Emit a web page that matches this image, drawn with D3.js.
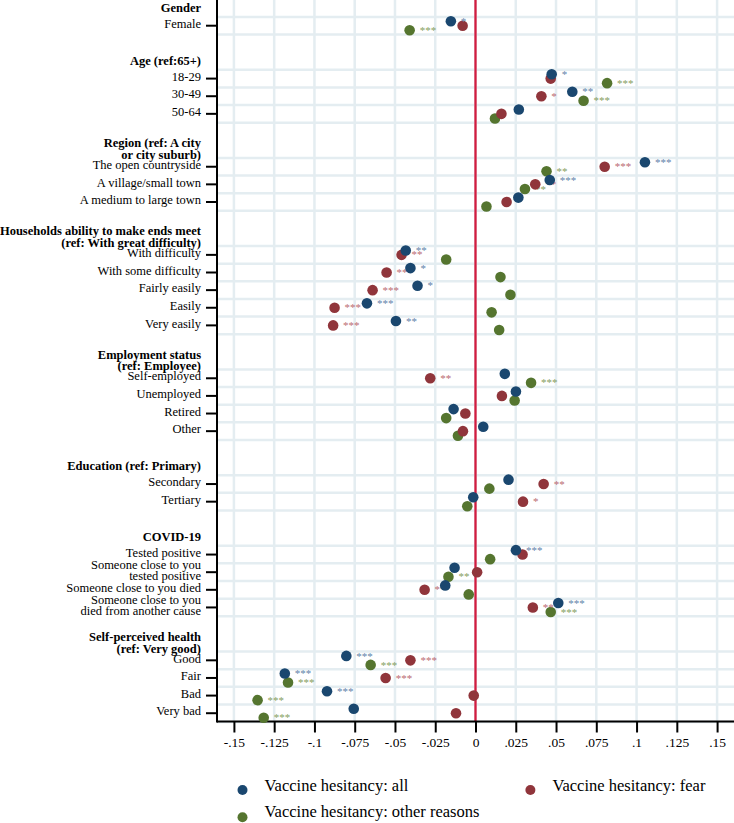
<!DOCTYPE html>
<html>
<head>
<meta charset="utf-8">
<script src="https://cdn.jsdelivr.net/npm/d3@7"></script>
<style>
  html, body { margin: 0; padding: 0; background: #ffffff; }
  svg { display: block; }
  text { font-family: "Liberation Serif", "Times New Roman", serif; }
</style>
</head>
<body>
<svg id="chart" width="734" height="823"></svg>
<script>
// ---------------- DATA ----------------
const groupHeaders = [
  "Gender",
  "Age (ref:65+)",
  "Region (ref: A city\nor city suburb)",
  "Households ability to make ends meet\n(ref: With great difficulty)",
  "Employment status\n(ref: Employee)",
  "Education (ref: Primary)",
  "COVID-19",
  "Self-perceived health\n(ref: Very good)"
];
const groupSizes = [1, 3, 3, 5, 4, 2, 4, 4];

const rowLabels = [
  "Female",
  "18-29", "30-49", "50-64",
  "The open countryside", "A village/small town", "A medium to large town",
  "With difficulty", "With some difficulty", "Fairly easily", "Easily", "Very easily",
  "Self-employed", "Unemployed", "Retired", "Other",
  "Secondary", "Tertiary",
  "Tested positive", "Someone close to you\ntested positive", "Someone close to you died", "Someone close to you\ndied from another cause",
  "Good", "Fair", "Bad", "Very bad"
];

const seriesNames = ["Vaccine hesitancy: all", "Vaccine hesitancy: fear", "Vaccine hesitancy: other reasons"];

const allValues = [
  -0.0153,
  0.0473, 0.0601, 0.0269,
  0.1052, 0.0461, 0.0266,
  -0.0433, -0.0404, -0.0360, -0.0674, -0.0494,
  0.0182, 0.0251, -0.0136, 0.0048,
  0.0205, -0.0014,
  0.0251, -0.0130, -0.0188, 0.0514,
  -0.0802, -0.1184, -0.0922, -0.0756
];
const fearValues = [
  -0.0080,
  0.0467, 0.0409, 0.0161,
  0.0802, 0.0371, 0.0193,
  -0.0459, -0.0552, -0.0639, -0.0875, -0.0884,
  -0.0281, 0.0164, -0.0063, -0.0078,
  0.0423, 0.0295,
  0.0292, 0.0010, -0.0316, 0.0356,
  -0.0404, -0.0558, -0.0011, -0.0121
];
const otherValues = [
  -0.0409,
  0.0817, 0.0671, 0.0121,
  0.0441, 0.0307, 0.0068,
  -0.0182, 0.0155, 0.0217, 0.0100, 0.0147,
  0.0345, 0.0243, -0.0182, -0.0109,
  0.0086, -0.0051,
  0.0091, -0.0168, -0.0042, 0.0467,
  -0.0651, -0.1164, -0.1353, -0.1315
];

const allStars = [
  "*",
  "*", "**", "",
  "***", "***", "",
  "**", "*", "*", "***", "**",
  "", "", "", "",
  "", "",
  "***", "", "", "***",
  "***", "***", "***", ""
];
const fearStars = [
  "",
  "", "*", "",
  "***", "**", "",
  "**", "**", "***", "***", "***",
  "**", "", "", "",
  "**", "*",
  "", "", "**", "**",
  "***", "***", "", ""
];
const otherStars = [
  "***",
  "***", "***", "",
  "**", "**", "",
  "", "", "", "", "",
  "***", "", "", "",
  "", "",
  "", "**", "", "***",
  "***", "***", "***", "***"
];

const xTicks = [-0.15, -0.125, -0.1, -0.075, -0.05, -0.025, 0, 0.025, 0.05, 0.075, 0.1, 0.125, 0.15];
const xTickLabels = ["-.15", "-.125", "-.1", "-.075", "-.05", "-.025", "0", ".025", ".05", ".075", ".1", ".125", ".15"];

// ---------------- LAYOUT ----------------
const W = 734, H = 823;
const plotLeft = 217, plotRight = 734, plotTop = 0, plotBottom = 721.5;
const colors = ["#1a476f", "#90353b", "#55752f"];
const starColors = ["#5f83aa", "#bb6a72", "#86a060"];
const gridColor = "#e4edf1";
const zeroColor = "#d21c40";

// slots for each row
const rowSlots = [];
const headerSlots = [];
let slot = 0;
groupSizes.forEach((n, g) => {
  headerSlots.push(slot - 1);
  for (let i = 0; i < n; i++) rowSlots.push(slot + i);
  slot += n + 2;
});

const x = d3.scaleLinear().domain([-0.1605, 0.1605]).range([plotLeft, plotRight]);
const y = d3.scaleLinear().domain([-1.458, 39.47]).range([plotTop, plotBottom]);

const svg = d3.select("#chart");
svg.append("rect").attr("width", W).attr("height", H).attr("fill", "#fff");

// vertical grid
svg.append("g").selectAll("line").data(xTicks).join("line")
  .attr("x1", d => x(d)).attr("x2", d => x(d))
  .attr("y1", plotTop).attr("y2", plotBottom)
  .attr("stroke", gridColor).attr("stroke-width", 2.5);

// horizontal grid at band boundaries
const hLines = [];
rowSlots.forEach(s => { hLines.push(s - 0.5); hLines.push(s + 0.5); });
const hUnique = Array.from(new Set(hLines));
svg.append("g").selectAll("line").data(hUnique).join("line")
  .attr("x1", plotLeft).attr("x2", plotRight)
  .attr("y1", d => y(d)).attr("y2", d => y(d))
  .attr("stroke", gridColor).attr("stroke-width", 2.5);

// zero line
svg.append("line")
  .attr("x1", x(0)).attr("x2", x(0)).attr("y1", plotTop).attr("y2", plotBottom)
  .attr("stroke", zeroColor).attr("stroke-width", 2.3);

// axes
const yAxisG = svg.append("g").attr("transform", `translate(${plotLeft},0)`);
yAxisG.append("line").attr("x1", 0).attr("x2", 0).attr("y1", plotTop).attr("y2", plotBottom + 1)
  .attr("stroke", "#000").attr("stroke-width", 2);
yAxisG.selectAll("line.tick").data(rowSlots).join("line").attr("class", "tick")
  .attr("x1", -11).attr("x2", 0).attr("y1", d => y(d)).attr("y2", d => y(d))
  .attr("stroke", "#000").attr("stroke-width", 2);

const xAxis = d3.axisBottom(x).tickValues(xTicks)
  .tickFormat((d, i) => xTickLabels[i]).tickSize(11).tickPadding(5);
const xAxisG = svg.append("g").attr("transform", `translate(0,${plotBottom})`).call(xAxis);
xAxisG.select(".domain").attr("d", `M${plotLeft},0H${plotRight}`).attr("stroke", "#000").attr("stroke-width", 2);
xAxisG.selectAll(".tick line").attr("stroke", "#000").attr("stroke-width", 2);
xAxisG.selectAll(".tick text")
  .attr("font-family", "'Liberation Serif', 'Times New Roman', serif")
  .attr("font-size", 13.5).attr("fill", "#000");

// row labels
const labelX = 201;
rowLabels.forEach((lab, i) => {
  const lines = lab.split("\n");
  const cy = y(rowSlots[i]) - 1.8;
  const lh = 11.7;
  const t = svg.append("text").attr("text-anchor", "end").attr("font-size", 12.5).attr("fill", "#000");
  lines.forEach((ln, k) => {
    t.append("tspan").attr("x", labelX)
      .attr("y", cy + (k - (lines.length - 1) / 2) * lh)
      .attr("dominant-baseline", "central").text(ln);
  });
});

// group headers
groupHeaders.forEach((h, g) => {
  const lines = h.split("\n");
  const cy = y(headerSlots[g]);
  const lh = 11.6;
  const t = svg.append("text").attr("text-anchor", "end").attr("font-size", 12.5)
    .attr("font-weight", "bold").attr("fill", "#000");
  lines.forEach((ln, k) => {
    t.append("tspan").attr("x", labelX)
      .attr("y", cy + (k - (lines.length - 1) / 2) * lh)
      .attr("dominant-baseline", "central").text(ln);
  });
});

// series (drawn green, red, blue so blue is on top)
const seriesValues = [allValues, fearValues, otherValues];
const seriesStars = [allStars, fearStars, otherStars];
const seriesOffset = [-0.25, 0, 0.26];
const r = 5.3;
[2, 1, 0].forEach(s => {
  const g = svg.append("g");
  const data = seriesValues[s].map((v, i) => ({ v, i, star: seriesStars[s][i] }));
  g.selectAll("text").data(data.filter(d => d.star)).join("text")
    .attr("x", d => x(d.v) + 10)
    .attr("y", d => y(rowSlots[d.i] + seriesOffset[s]) + 3.6)
    .attr("font-size", 11).attr("fill", starColors[s])
    .text(d => d.star);
  g.selectAll("circle").data(data).join("circle")
    .attr("cx", d => x(d.v))
    .attr("cy", d => y(rowSlots[d.i] + seriesOffset[s]))
    .attr("r", r).attr("fill", colors[s]);
});

// legend
const legendItems = [
  { name: seriesNames[0], c: colors[0], dx: 242.5, ty: 785, dy: 790 },
  { name: seriesNames[1], c: colors[1], dx: 530.4, ty: 785, dy: 790 },
  { name: seriesNames[2], c: colors[2], dx: 242.5, ty: 811.7, dy: 817.3 }
];
const lg = svg.append("g");
legendItems.forEach(it => {
  lg.append("circle").attr("cx", it.dx).attr("cy", it.dy).attr("r", 5).attr("fill", it.c);
  lg.append("text").attr("x", it.dx + 22).attr("y", it.ty)
    .attr("dominant-baseline", "central").attr("font-size", 16.5).attr("fill", "#000")
    .text(it.name);
});
</script>
</body>
</html>
